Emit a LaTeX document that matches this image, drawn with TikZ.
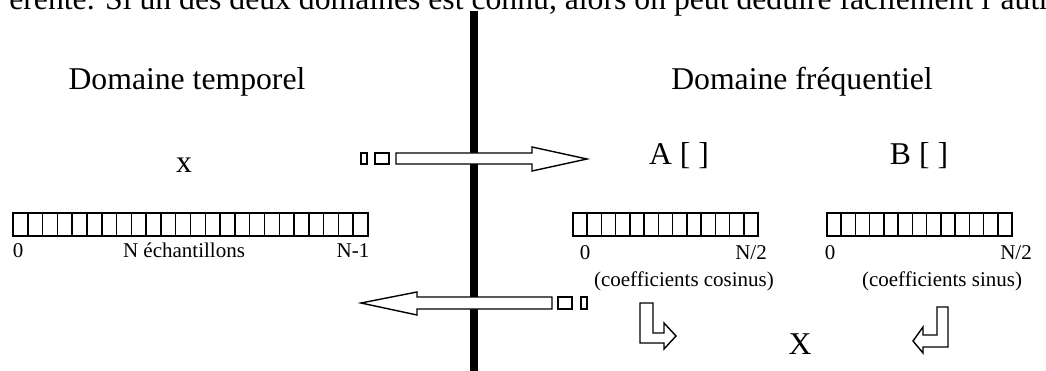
\documentclass[tikz,border=0pt]{standalone}
\usepackage{fontspec}
\setmainfont{Liberation Serif}
\begin{document}
\begin{tikzpicture}[x=1pt,y=-1pt,
  big/.style={font=\fontsize{31.7}{38}\selectfont, inner sep=0pt, anchor=base},
  small/.style={font=\fontsize{21}{25}\selectfont, inner sep=0pt, anchor=base},
  cellline/.style={line width=1.5pt},
  arrowshape/.style={draw, fill=white, line width=1.4pt, line join=miter},
  smallbox/.style={draw, fill=white, line width=1.4pt}]
\useasboundingbox (0,0) rectangle (1046,371);
% top cropped line of text
\begin{scope}
\clip (0,0) rectangle (1046,371);
\node[big, anchor=base east] (toptext) at (1050,10) {érente. Si un des deux domaines est connu, alors on peut déduire facilement l'autr};
\end{scope}
% vertical bar
\fill (470,11) rectangle (478,371);
% titles
\node[big] (dt) at (187,90) {Domaine temporel};
\node[big] (df) at (802,90) {Domaine fréquentiel};
\node[big] (x) at (184,173) {x};
\node[big] (A) at (679,165) {A [ ]};
\node[big] (B) at (919,165) {B [ ]};
% left tape: 24 cells
\draw[cellline] (13,213) rectangle (368,236);
\foreach \i in {1,...,23} \draw[cellline] ({13+\i*355/24},213) -- ({13+\i*355/24},236);
\node[small] (l0) at (18,258) {0};
\node[small] (lN) at (184,258) {N échantillons};
\node[small] (lN1) at (353,258) {N-1};
% tape A: 13 cells
\draw[cellline] (573,213) rectangle (758,236);
\foreach \i in {1,...,12} \draw[cellline] ({573+\i*185/13},213) -- ({573+\i*185/13},236);
\node[small] (a0) at (585,260) {0};
\node[small] (aN) at (751,260) {N/2};
\node[small] (acos) at (684,286) {(coefficients cosinus)};
% tape B: 13 cells
\draw[cellline] (827,213) rectangle (1012,236);
\foreach \i in {1,...,12} \draw[cellline] ({827+\i*185/13},213) -- ({827+\i*185/13},236);
\node[small] (b0) at (830,260) {0};
\node[small] (bN) at (1016,260) {N/2};
\node[small] (bsin) at (942,286) {(coefficients sinus)};
% right arrow
\draw[smallbox] (361,153) rectangle (367,164);
\draw[smallbox] (375,153) rectangle (389,164);
\draw[arrowshape] (396,153) -- (532,153) -- (532,147) -- (587,159) -- (532,171) -- (532,164) -- (396,164) -- cycle;
% left arrow
\draw[arrowshape] (552,297) -- (417,297) -- (417,292) -- (361,303) -- (417,315) -- (417,309) -- (552,309) -- cycle;
\draw[smallbox] (558,297) rectangle (572,309);
\draw[smallbox] (581,297) rectangle (587,309);
% bent arrows
\draw[arrowshape] (640,303) -- (653,303) -- (653,333) -- (664,333) -- (664,323) -- (676,336) -- (664,349) -- (664,343) -- (640,343) -- cycle;
\draw[arrowshape] (948,307) -- (937,307) -- (937,335) -- (923,335) -- (923,327) -- (913,341) -- (923,353) -- (923,347) -- (948,347) -- cycle;
\node[big] (X) at (800,354) {X};
\end{tikzpicture}
\end{document}
